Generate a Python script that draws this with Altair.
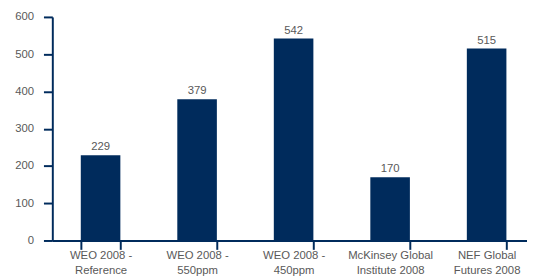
import altair as alt
import pandas as pd

categories = ["WEO 2008 -|Reference", "WEO 2008 -|550ppm", "WEO 2008 -|450ppm",
              "McKinsey Global|Institute 2008", "NEF Global|Futures 2008"]
values = [229, 379, 542, 170, 515]

df = pd.DataFrame({"cat": categories, "val": values})

navy = "#002B5C"
grey = "#595959"

x = alt.X("cat:N", sort=categories, title=None,
          scale=alt.Scale(range=[0, 490], paddingInner=0.59, paddingOuter=0.295),
          axis=alt.Axis(labelExpr="split(datum.label, '|')", labelAngle=0,
                        tickBand="extent", tickSize=9, tickWidth=2, labelPadding=0,
                        labelLineHeight=16, labelFontSize=11.5, labelColor=grey,
                        labelFont="Liberation Sans", domainColor=navy, domainWidth=2,
                        tickColor=navy, labelBaseline="top"))
y = alt.Y("val:Q", title=None,
          scale=alt.Scale(domain=[0, 600], nice=False),
          axis=alt.Axis(values=[0, 100, 200, 300, 400, 500, 600], grid=False,
                        labelOverlap=False, labelFlush=False,
                        tickSize=9, tickWidth=2, tickColor=navy, domainColor=navy,
                        domainWidth=2, labelPadding=10, labelFontSize=11.5,
                        labelColor=grey, labelFont="Liberation Sans"))

bars = alt.Chart(df).mark_bar(color=navy).encode(x=x, y=y)
text = alt.Chart(df).mark_text(dy=-3, fontSize=11.5, color=grey, font="Liberation Sans",
                               baseline="bottom").encode(x=x, y=y, text="val:Q")

chart = (bars + text).properties(
    width=482, height=227,
    autosize=alt.AutoSizeParams(type="none"),
    padding={"left": 45, "top": 7, "right": 0, "bottom": 34},
).configure_view(stroke=None)

chart.save("out.html", embed_options={"renderer": "svg", "actions": False})
